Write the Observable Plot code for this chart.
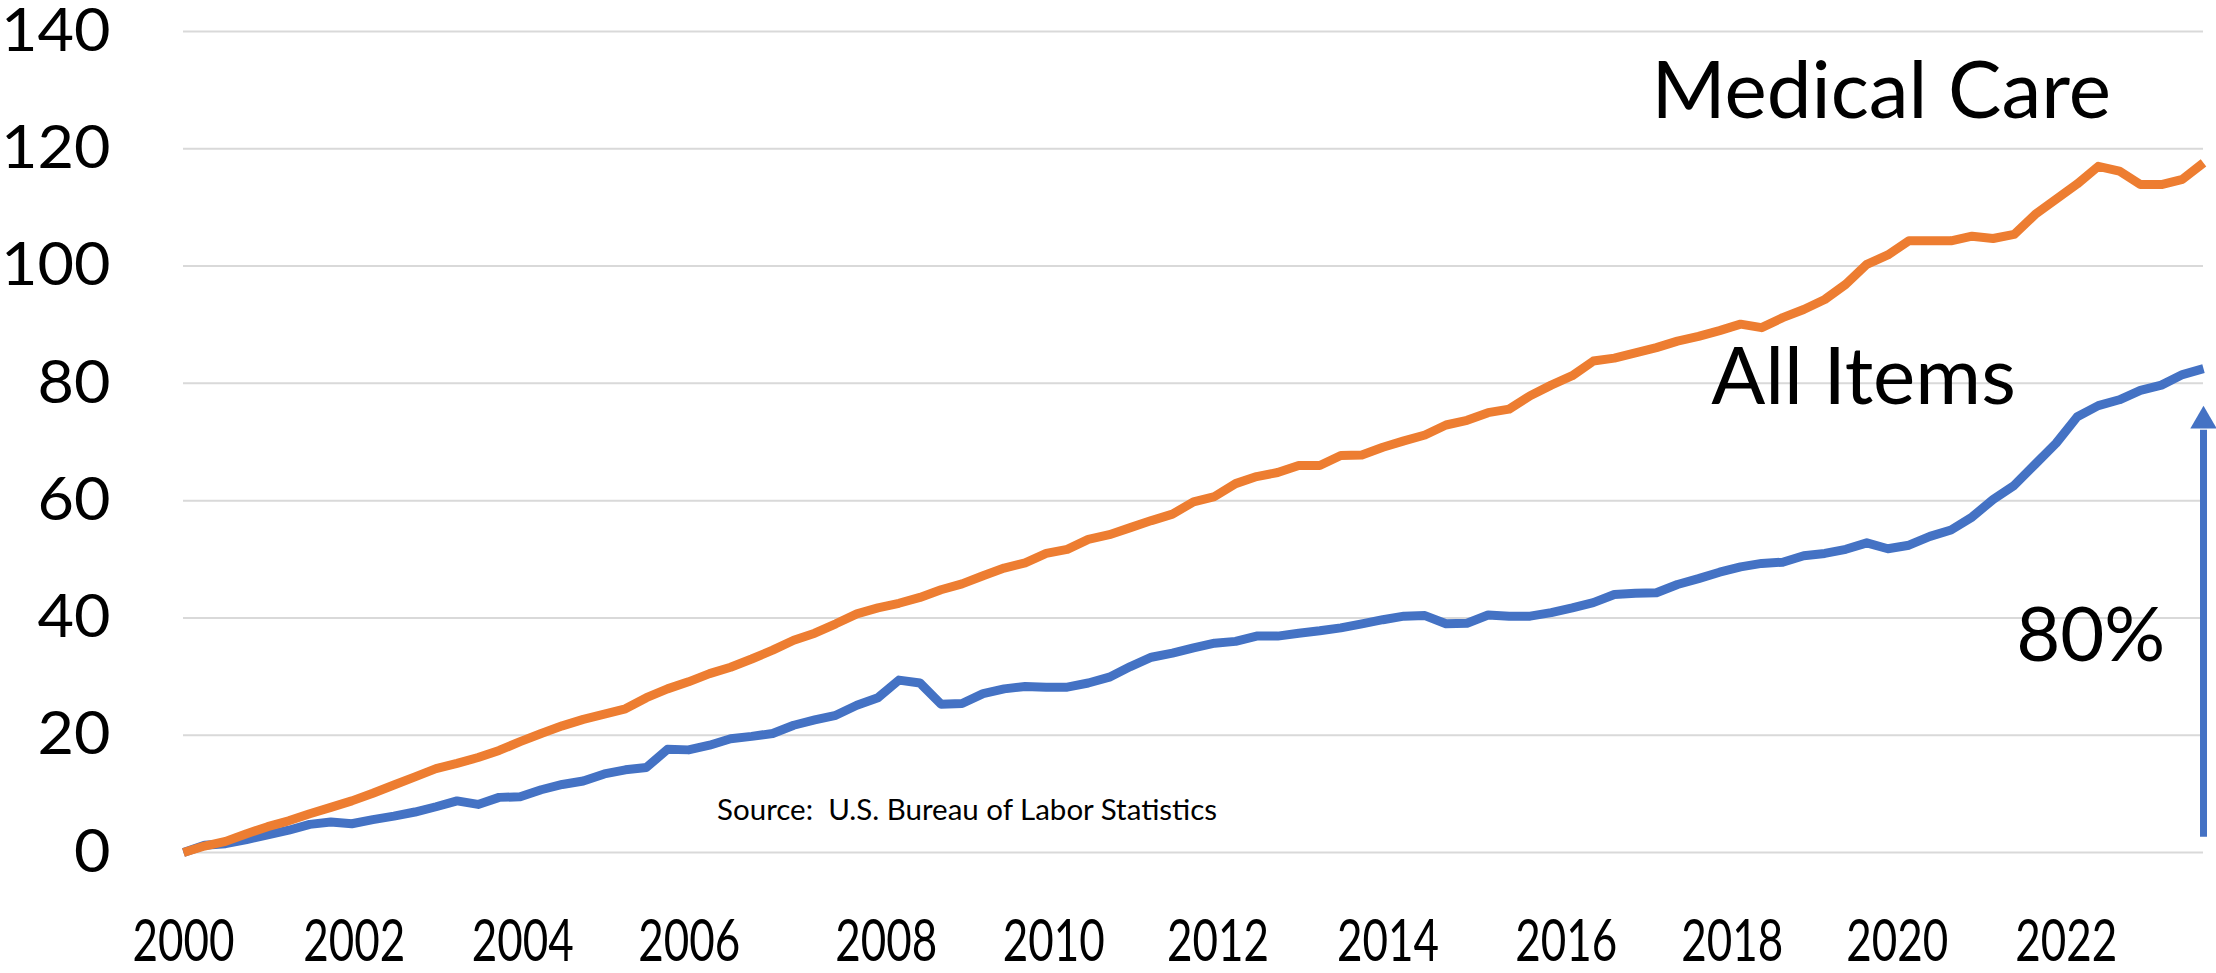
<!DOCTYPE html>
<html><head><meta charset="utf-8">
<script src="https://cdn.jsdelivr.net/npm/d3@7"></script>
<script src="https://cdn.jsdelivr.net/npm/@observablehq/plot@0.6"></script>
<style>html,body{margin:0;padding:0;background:#fff;} svg{display:block;}</style>
</head><body><div id="chart"></div>
<script>
// Cumulative % change since 2000 (quarterly readings, 2000 Q1 .. 2024 Q1)
const seriesNames = ["All Items", "Medical Care"];
const seriesColors = ["#4472C4", "#ED7D31"];
const allItems = [
  0, 1.25, 1.5, 2.2,
  3.0, 3.8, 4.8, 5.2,
  4.9, 5.6, 6.2, 6.9,
  7.8, 8.8, 8.2, 9.4,
  9.5, 10.7, 11.6, 12.2,
  13.4, 14.1, 14.5, 17.6,
  17.5, 18.3, 19.4, 19.8,
  20.3, 21.7, 22.6, 23.4,
  25.1, 26.4, 29.4, 28.9,
  25.3, 25.4, 27.1, 27.9,
  28.3, 28.2, 28.2, 28.9,
  29.9, 31.7, 33.3, 34.0,
  34.9, 35.7, 36.0, 36.9,
  36.9, 37.4, 37.8, 38.3,
  39.0, 39.7, 40.3, 40.4,
  39.0, 39.1, 40.5, 40.3,
  40.3, 40.9, 41.7, 42.6,
  44.0, 44.2, 44.3, 45.7,
  46.7, 47.8, 48.7, 49.3,
  49.5, 50.6, 51.0, 51.7,
  52.8, 51.8, 52.4, 53.9,
  55.0, 57.2, 60.2, 62.6,
  66.2, 69.8, 74.3, 76.2,
  77.2, 78.8, 79.7, 81.5,
  82.5
];
const medicalCare = [
  0, 1.1, 1.9, 3.2,
  4.4, 5.4, 6.6, 7.7,
  8.8, 10.1, 11.5, 12.9,
  14.3, 15.2, 16.2, 17.4,
  18.9, 20.3, 21.6, 22.7,
  23.6, 24.5, 26.4, 27.9,
  29.1, 30.5, 31.6, 33.0,
  34.5, 36.2, 37.4, 39.0,
  40.7, 41.7, 42.5, 43.5,
  44.8, 45.8, 47.2, 48.5,
  49.4, 51.0, 51.7, 53.4,
  54.2, 55.4, 56.6, 57.7,
  59.8, 60.7, 62.9, 64.1,
  64.8, 66.0, 66.0, 67.7,
  67.8, 69.1, 70.2, 71.2,
  72.9, 73.7, 75.0, 75.6,
  77.9, 79.7, 81.3, 83.8,
  84.3, 85.2, 86.1, 87.2,
  88.0, 89.0, 90.1, 89.5,
  91.2, 92.6, 94.3, 96.9,
  100.3, 101.9, 104.3, 104.3,
  104.3, 105.1, 104.7, 105.4,
  108.8, 111.4, 114.0, 117.0,
  116.2, 113.9, 113.9, 114.8,
  117.6
];
const startYear = 2000;
const endYear = 2024;
const yTicks = [0, 20, 40, 60, 80, 100, 120, 140];
const tickYears = [2000.0, 2002.03, 2004.03, 2006.01, 2008.35, 2010.34, 2012.29, 2014.31, 2016.43, 2018.40, 2020.36, 2022.37];
const tickLabels = ["2000", "2002", "2004", "2006", "2008", "2010", "2012", "2014", "2016", "2018", "2020", "2022"];
const annotationText = ["Medical Care", "All Items", "80%"];
const annotationYear = [2020.17, 2019.96, 2022.66];
const annotationValue = [129.6, 80.8, 36.8];
const sourceText = "Source:  U.S. Bureau of Labor Statistics";
const sourceYear = [2009.31];
const sourceValue = [7.1];
const arrowYear = [2024];
const arrowFrom = [2.6];
const arrowTo = [72];
const arrowHead = [73.6];

const quarterYears = allItems.map((_, i) => startYear + i / 4);
const rows = [
  ...allItems.map((v, i) => ({year: quarterYears[i], value: v, series: seriesNames[0]})),
  ...medicalCare.map((v, i) => ({year: quarterYears[i], value: v, series: seriesNames[1]}))
];
const labelByYear = new Map(tickYears.map((y, i) => [y, tickLabels[i]]));
const annotations = annotationText.map((t, i) => ({text: t, year: annotationYear[i], value: annotationValue[i]}));
const source = sourceYear.map((y, i) => ({text: sourceText, year: y, value: sourceValue[i]}));
const arrows = arrowYear.map((y, i) => ({year: y, from: arrowFrom[i], to: arrowTo[i], head: arrowHead[i]}));

const chart = Plot.plot({
  width: 2216,
  height: 973,
  marginLeft: 183,
  marginRight: 13,
  marginTop: 31,
  marginBottom: 121,
  style: {fontFamily: "Lato, 'Open Sans', sans-serif", background: "#ffffff", color: "#000"},
  x: {domain: [startYear, endYear]},
  y: {domain: [0, 140]},
  color: {domain: seriesNames, range: seriesColors},
  marks: [
    Plot.gridY(yTicks, {stroke: "#d9d9d9", strokeOpacity: 1, strokeWidth: 2}),
    Plot.axisY(yTicks, {tickSize: 0, tickPadding: 73, fontSize: 60, label: null, tickFormat: d => String(d)}),
    Plot.axisX(tickYears, {tickSize: 0, tickPadding: 67, fontSize: 58, label: null, tickFormat: d => labelByYear.get(d)}),
    Plot.lineY(rows, {x: "year", y: "value", z: "series", stroke: "series", strokeWidth: 9, strokeLinejoin: "round", strokeLinecap: "butt"}),
    Plot.ruleX(arrows, {x: "year", y1: "from", y2: "to", stroke: seriesColors[0], strokeWidth: 7}),
    Plot.dot(arrows, {x: "year", y: "head", symbol: "triangle", r: 9.8, fill: seriesColors[0], stroke: null}),
    Plot.text(annotations.slice(0, 2), {x: "year", y: "value", text: "text", fontSize: 80, fill: "#000", textAnchor: "middle", lineAnchor: "middle"}),
    Plot.text(annotations.slice(2), {x: "year", y: "value", text: "text", fontSize: 76, fill: "#000", textAnchor: "middle", lineAnchor: "middle"}),
    Plot.text(source, {x: "year", y: "value", text: "text", fontSize: 29.5, fill: "#000", textAnchor: "middle", lineAnchor: "middle"})
  ]
});
// Match the reference's glyph proportions (wide y labels, narrow x labels)
d3.select(chart).selectAll('g[aria-label="y-axis tick label"] text')
  .each(function() {
    const n = this.textContent.length;
    d3.select(this).attr("textLength", n * 36.5).attr("lengthAdjust", "spacingAndGlyphs");
  });
d3.select(chart).selectAll('g[aria-label="x-axis tick label"] text')
  .each(function() {
    const n = this.textContent.length;
    d3.select(this).attr("textLength", n * 25.5).attr("lengthAdjust", "spacingAndGlyphs");
  });
document.getElementById("chart").appendChild(chart);
</script>
</body></html>
